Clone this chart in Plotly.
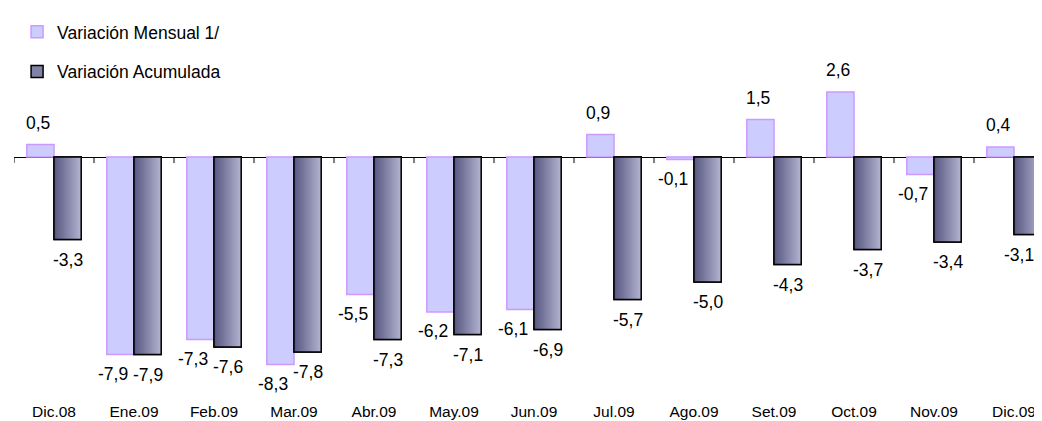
import plotly.graph_objects as go

categorias = ["Dic.08", "Ene.09", "Feb.09", "Mar.09", "Abr.09", "May.09", "Jun.09",
              "Jul.09", "Ago.09", "Set.09", "Oct.09", "Nov.09", "Dic.09"]
mensual = [0.5, -7.9, -7.3, -8.3, -5.5, -6.2, -6.1, 0.9, -0.1, 1.5, 2.6, -0.7, 0.4]
acumulada = [-3.3, -7.9, -7.6, -7.8, -7.3, -7.1, -6.9, -5.7, -5.0, -4.3, -3.7, -3.4, -3.1]

x = list(range(len(categorias)))
ancho = 0.34
fuente = "Liberation Sans, Arial, sans-serif"

fig = go.Figure()

fig.add_bar(x=x, y=mensual, width=ancho, offset=-ancho, name="Variación Mensual 1/",
            legendgroup="m",
            marker=dict(color="#ccccff", line=dict(color="#cc99ff", width=1.5)))

# barra de fondo (para la leyenda) y degradado horizontal por franjas
fig.add_bar(x=x, y=acumulada, width=ancho, offset=0, name="Variación Acumulada",
            legendgroup="a",
            marker=dict(color="#8282a6", line=dict(color="black", width=1.5)))

n = 14
c0 = (90, 90, 132)
c1 = (176, 176, 206)
for i in range(n):
    t = i / (n - 1)
    col = "rgb({},{},{})".format(*[round(a + (b - a) * t) for a, b in zip(c0, c1)])
    fig.add_bar(x=x, y=acumulada, width=ancho * (1 - i / n), offset=ancho * i / n,
                marker=dict(color=col, line=dict(width=0)),
                showlegend=False, hoverinfo="skip")

fig.add_bar(x=x, y=acumulada, width=ancho, offset=0, showlegend=False, hoverinfo="skip",
            marker=dict(color="rgba(0,0,0,0)", line=dict(color="black", width=1.5)))

def etiqueta(v):
    return f"{v:.1f}".replace(".", ",")

for xi, v in zip(x, mensual):
    fig.add_annotation(x=xi - ancho / 2, y=v, text=etiqueta(v), showarrow=False,
                       xshift=-2 if v >= 0 else -7, yshift=10 if v >= 0 else -7,
                       yanchor="bottom" if v >= 0 else "top",
                       font=dict(family=fuente, size=17.5, color="black"))
for xi, v in zip(x, acumulada):
    # la última etiqueta se corre para no salirse del borde
    fig.add_annotation(x=xi + ancho / 2, y=v, text=etiqueta(v), showarrow=False,
                       xshift=-9 if xi == x[-1] else 0, yshift=-8, yanchor="top",
                       font=dict(family=fuente, size=17.5, color="black"))

# marcas de división entre categorías sobre el eje en cero
for i in range(len(categorias) + 1):
    fig.add_shape(type="line", xref="x", yref="y", x0=i - 0.5, x1=i - 0.5,
                  ysizemode="pixel", yanchor=0, y0=0, y1=-6,
                  line=dict(color="black", width=1))

# la página deja 8 px de margen, por eso el lienzo es 8 px menor
fig.update_layout(
    width=1034, height=413,
    barmode="overlay",
    plot_bgcolor="white", paper_bgcolor="white",
    margin=dict(l=6, r=0, t=0, b=21, autoexpand=False),
    font=dict(family=fuente, size=17.5, color="black"),
    showlegend=True,
    legend=dict(x=0.003, y=0.985, xanchor="left", yanchor="top", traceorder="grouped",
                tracegroupgap=14, font=dict(size=17.5), bgcolor="rgba(0,0,0,0)"),
)
fig.update_xaxes(tickvals=x, ticktext=categorias, range=[-0.5, 12.35],
                 showgrid=False, zeroline=False, showline=False, ticks="",
                 automargin=False,
                 tickfont=dict(family=fuente, size=15.5))
fig.update_yaxes(range=[-9.72, 5.96], showgrid=False, showticklabels=False,
                 zeroline=True, zerolinecolor="black", zerolinewidth=1, automargin=False)

fig.write_html("out.html")
